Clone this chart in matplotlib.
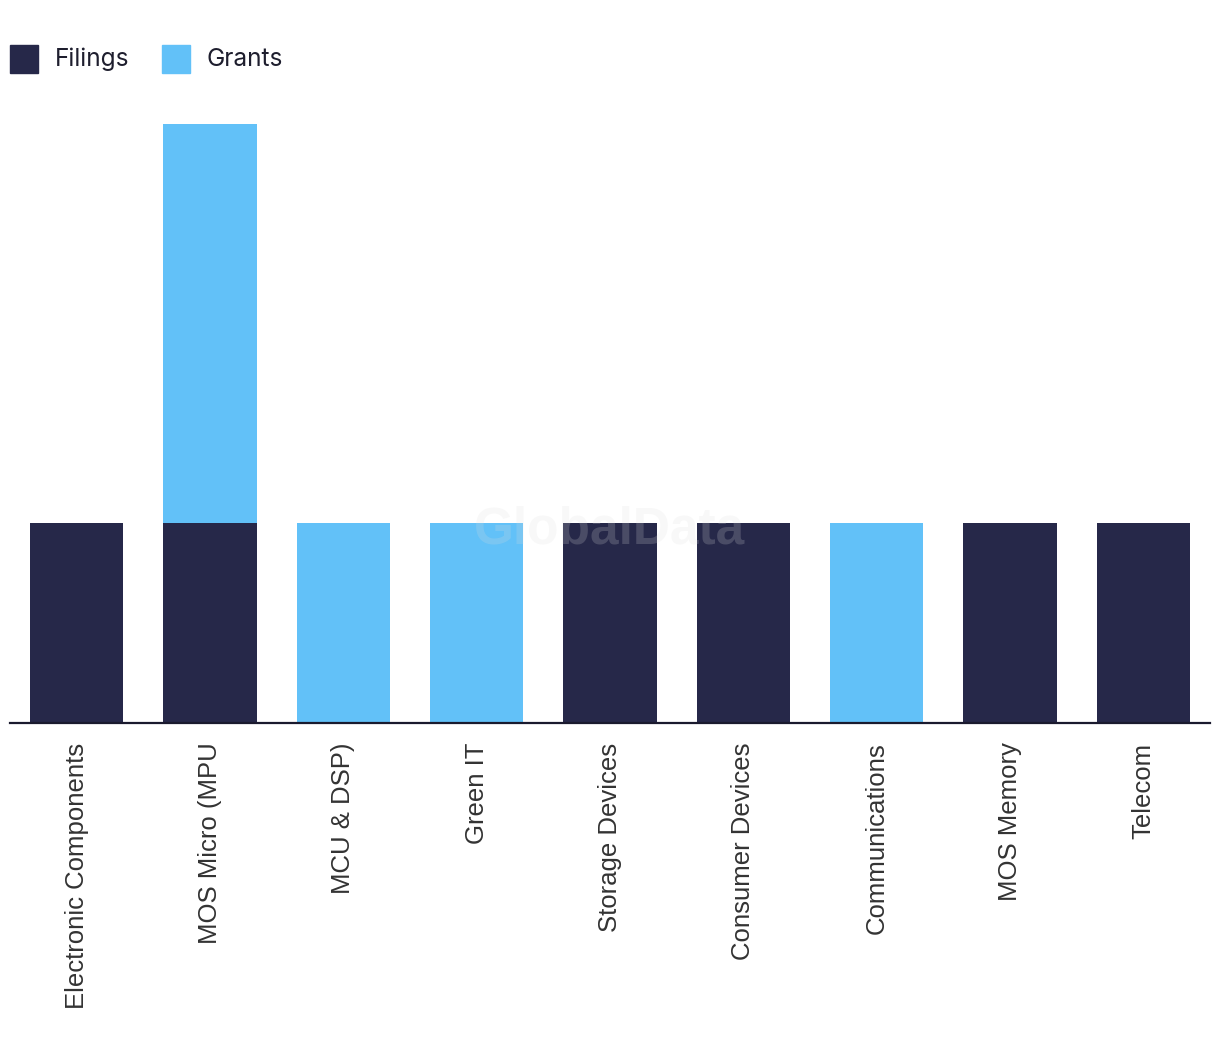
import matplotlib.pyplot as plt
from matplotlib.patches import Rectangle

categories = ['Electronic Components', 'MOS Micro (MPU', 'MCU & DSP)', 'Green IT',
              'Storage Devices', 'Consumer Devices', 'Communications', 'MOS Memory', 'Telecom']
filings = [1, 1, 0, 0, 1, 1, 0, 1, 1]
grants = [0, 2, 1, 1, 0, 0, 1, 0, 0]

dark = '#262849'
light = '#62C1F8'

fig = plt.figure(figsize=(12.2, 10.6), dpi=100)
ax = fig.add_axes([10 / 1220, 1 - 723 / 1060, 1200 / 1220, (723 - 124) / 1060])

x = range(len(categories))
ax.bar(x, filings, width=0.7, color=dark, zorder=2)
ax.bar(x, grants, width=0.7, bottom=filings, color=light, zorder=2)

ax.set_xlim(-0.5, len(categories) - 0.5)
ax.set_ylim(0, 3)
ax.set_yticks([])
ax.set_xticks(list(x))
ax.set_xticklabels(categories, rotation=90, family='Liberation Sans',
                   fontsize=18.5, color='#333333')
ax.tick_params(axis='x', length=0, pad=14)
for s in ['top', 'right', 'left']:
    ax.spines[s].set_visible(False)
ax.spines['bottom'].set_color('#1a1a2e')
ax.spines['bottom'].set_linewidth(1.6)
ax.spines['bottom'].set_zorder(3)

# watermark
fig.text(610 / 1220, 1 - 530 / 1060, 'GlobalData', ha='center', va='center',
         fontsize=37, fontweight='bold', family='Liberation Sans',
         color='#dddddd', alpha=0.2, zorder=5)

# legend
for xs, label, c in [(10, 'Filings', dark), (162, 'Grants', light)]:
    fig.patches.append(Rectangle((xs / 1220, 1 - 73 / 1060), 28 / 1220, 28 / 1060,
                                 transform=fig.transFigure, color=c))
    fig.text((xs + 45) / 1220, 1 - 59 / 1060, label, ha='left', va='center',
             fontsize=17.6, family='Inter', color='#1e1e2e')

fig.savefig('out.png', dpi=100)
